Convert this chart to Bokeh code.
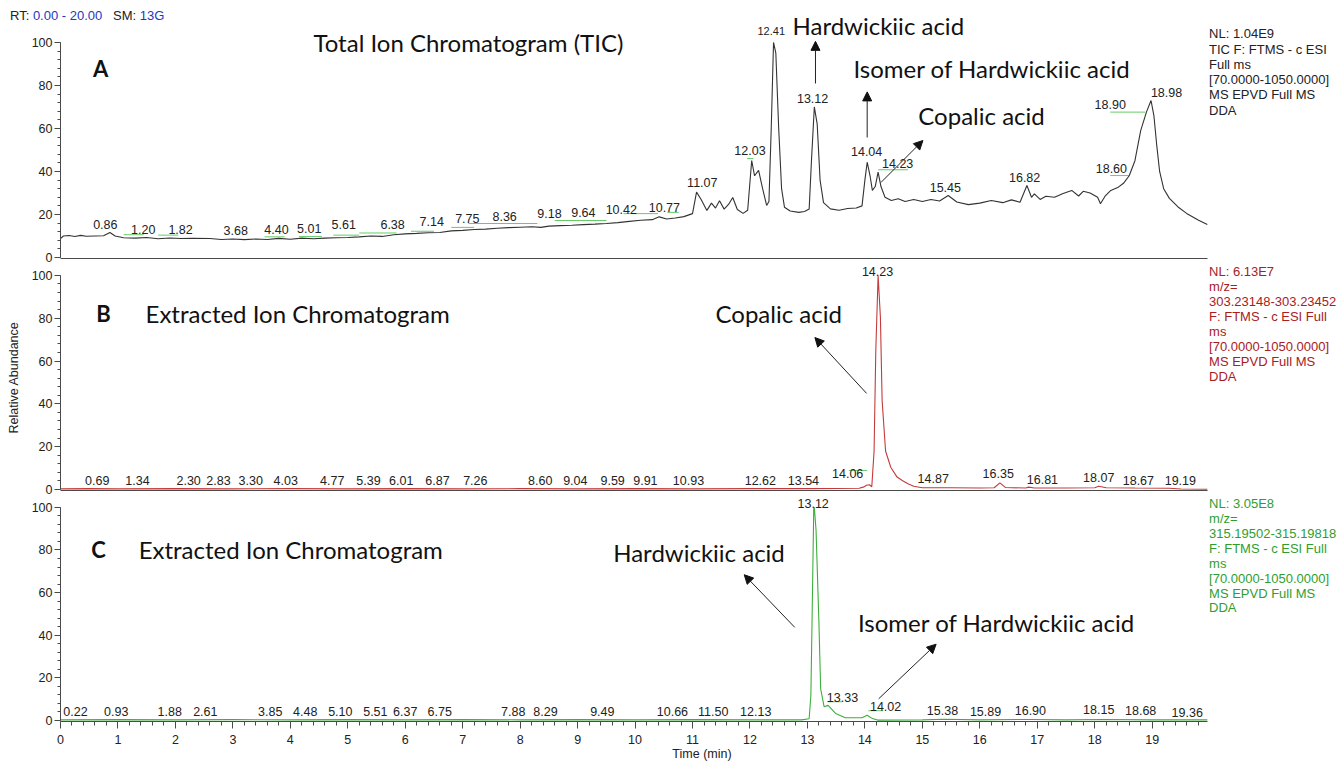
import math
from bokeh.plotting import figure
from bokeh.layouts import column
from bokeh.models import (Label, Arrow, NormalHead, SingleIntervalTicker, FixedTicker,
                          ColumnDataSource, Range1d, Div, GridBox)
from bokeh.core.properties import value
from bokeh.embed import file_html
from bokeh.resources import INLINE

# ---------------- data ----------------
# Panel A: Total Ion Chromatogram (time in min, relative abundance %)
a_t = [0.00, 0.05, 0.15, 0.25, 0.35, 0.45, 0.60, 0.75, 0.86, 0.95, 1.10, 1.30, 1.50, 1.70,
       1.90, 2.10, 2.30, 2.60, 2.80, 3.00, 3.20, 3.40, 3.60, 3.80, 4.00, 4.20, 4.40, 4.60,
       4.80, 5.00, 5.20, 5.40, 5.60, 5.80, 6.00, 6.20, 6.40, 6.60, 6.80, 7.00, 7.20, 7.40,
       7.60, 7.80, 8.00, 8.20, 8.36, 8.50, 8.70, 8.90, 9.10, 9.30, 9.50, 9.70, 9.90, 10.10,
       10.30, 10.42, 10.55, 10.70, 10.85, 11.00, 11.07, 11.15, 11.25, 11.33, 11.40, 11.47,
       11.55, 11.63, 11.70, 11.78, 11.88, 11.96, 12.03, 12.08, 12.15, 12.22, 12.29, 12.33,
       12.37, 12.41, 12.45, 12.50, 12.55, 12.60, 12.70, 12.85, 12.95, 13.03, 13.07, 13.12,
       13.17, 13.22, 13.28, 13.40, 13.55, 13.70, 13.85, 13.95, 14.00, 14.04, 14.09, 14.13,
       14.18, 14.23, 14.28, 14.35, 14.46, 14.58, 14.70, 14.85, 15.00, 15.15, 15.30, 15.45,
       15.60, 15.80, 16.00, 16.20, 16.40, 16.55, 16.70, 16.82, 16.90, 16.95, 17.05, 17.15,
       17.30, 17.45, 17.60, 17.72, 17.80, 17.92, 18.05, 18.10, 18.18, 18.28, 18.40, 18.50,
       18.60, 18.70, 18.80, 18.90, 18.98, 19.03, 19.08, 19.13, 19.20, 19.30, 19.45, 19.60,
       19.80, 19.96]
a_v = [8.8, 10.0, 10.2, 9.8, 10.3, 9.9, 10.0, 10.1, 11.6, 10.0, 9.2, 9.0, 9.3, 8.7,
       9.1, 8.8, 8.9, 8.8, 8.4, 8.6, 8.3, 8.6, 8.4, 8.9, 8.5, 9.0, 8.7, 9.0,
       9.2, 9.3, 9.6, 10.0, 9.8, 10.6, 11.0, 11.2, 11.5, 11.6, 12.4, 12.6, 13.0, 13.2,
       13.6, 13.9, 14.1, 14.3, 14.0, 14.6, 14.8, 15.0, 15.3, 15.5, 15.8, 16.2, 16.8, 17.3,
       17.6, 18.9, 17.9, 18.4, 19.0, 20.4, 30.4, 27.0, 21.9, 25.3, 23.0, 26.4,
       22.5, 24.8, 27.9, 22.3, 20.5, 22.0, 45.1, 38.0, 40.5, 32.0, 24.2, 26.0,
       60.0, 100.0, 95.0, 60.0, 32.0, 23.4, 21.6, 21.0, 21.4, 22.5, 45.0, 70.0,
       62.0, 36.0, 25.5, 22.6, 22.0, 22.8, 23.0, 24.0, 36.0, 44.3, 38.0, 31.2,
       33.0, 39.7, 33.0, 28.0, 26.5, 27.3, 26.0, 27.0, 26.0, 27.0, 26.3, 28.8,
       25.8, 24.6, 25.3, 26.5, 25.5, 26.8, 25.7, 33.5, 28.0, 29.6, 27.0, 28.5,
       28.0, 29.8, 31.2, 28.6, 30.8, 30.0, 28.0, 25.0, 28.5, 31.2, 32.5, 34.5,
       38.0, 45.0, 59.0, 67.6, 73.0, 66.0, 52.0, 40.0, 32.0, 27.5, 23.5, 20.5,
       17.4, 15.3]
# Panel A peak labels (retention times)
a_peaks = [0.86, 1.20, 1.82, 3.68, 4.40, 5.01, 5.61, 6.38, 7.14, 7.75, 8.36, 9.18, 9.64,
           10.42, 10.77, 11.07, 12.03, 12.41, 13.12, 14.04, 14.23, 15.45, 16.82, 18.60,
           18.90, 18.98]
# baseline marker segments (start, end, level)
a_seg = [(1.10, 1.45, 10.6), (1.70, 2.05, 10.4), (3.55, 3.90, 9.6), (4.15, 4.55, 9.8),
         (4.75, 5.20, 10.4), (5.20, 5.85, 11.4), (6.10, 6.50, 12.2), (6.80, 7.20, 14.0),
         (7.10, 8.30, 15.8), (8.60, 9.50, 17.2), (9.80, 10.40, 20.4), (10.56, 10.76, 21.0),
         (11.95, 12.06, 46.0), (14.23, 14.75, 40.8), (18.27, 18.88, 67.6), (18.27, 18.60, 38.1)]

# Panel B: Extracted Ion Chromatogram m/z 303.23148-303.23452 (copalic acid)
b_t = [0.0, 0.5, 1.0, 2.0, 3.0, 4.0, 5.0, 6.0, 7.0, 8.0, 9.0, 10.0, 11.0, 12.0, 13.0,
       13.5, 13.9, 13.97, 14.03, 14.08, 14.12, 14.16, 14.19, 14.23, 14.27, 14.30, 14.36,
       14.45, 14.56, 14.65, 14.75, 14.85, 15.0, 15.5, 16.0, 16.25, 16.35, 16.45, 16.8,
       16.85, 16.95, 17.5, 18.0, 18.07, 18.2, 18.7, 19.3, 19.5, 19.96]
b_v = [0.3, 0.4, 0.3, 0.4, 0.3, 0.4, 0.3, 0.4, 0.3, 0.4, 0.3, 0.4, 0.3, 0.4, 0.4,
       0.5, 0.6, 1.1, 2.0, 2.2, 1.3, 18.0, 65.0, 100.0, 80.5, 41.6, 18.0,
       10.4, 5.8, 4.2, 2.7, 1.5, 0.8, 0.8, 0.7, 0.8, 3.1, 0.9, 0.7,
       1.1, 0.7, 0.7, 0.8, 1.5, 0.8, 0.7, 0.6, 0.2, 0.1]
b_peaks = [0.69, 1.34, 2.30, 2.83, 3.30, 4.03, 4.77, 5.39, 6.01, 6.87, 7.26, 8.60, 9.04,
           9.59, 9.91, 10.93, 12.62, 13.54, 14.06, 14.23, 14.87, 16.35, 16.81, 18.07,
           18.67, 19.19]
b_seg = [(13.72, 14.04, 8.9)]

# Panel C: Extracted Ion Chromatogram m/z 315.19502-315.19818 (hardwickiic acid)
c_t = [0.0, 1.0, 2.0, 3.0, 4.0, 5.0, 6.0, 7.0, 8.0, 9.0, 10.0, 11.0, 12.0, 12.9,
       13.03, 13.06, 13.08, 13.11, 13.12, 13.15, 13.20, 13.23, 13.29, 13.36, 13.49, 13.66,
       13.95, 14.04, 14.13, 14.22, 15.0, 15.38, 16.0, 16.9, 17.5, 18.15, 19.0, 19.96]
c_v = [0.3, 0.4, 0.3, 0.4, 0.3, 0.4, 0.3, 0.4, 0.3, 0.4, 0.3, 0.4, 0.3, 0.3,
       0.8, 12.0, 46.0, 99.5, 100.0, 89.3, 46.0, 14.9, 6.5, 7.1, 3.3, 1.3,
       1.3, 2.5, 0.9, 0.2, 0.3, 0.6, 0.3, 0.5, 0.3, 0.5, 0.3, 0.3]
c_peaks = [0.22, 0.93, 1.88, 2.61, 3.85, 4.48, 5.10, 5.51, 6.37, 6.75, 7.88, 8.29, 9.49,
           10.66, 11.50, 12.13, 13.12, 13.33, 14.02, 15.38, 15.89, 16.90, 18.15, 18.68, 19.36]
c_seg = [(13.35, 13.60, 8.8), (14.06, 14.32, 4.6)]

y_label = "Relative Abundance"
x_label = "Time (min)"
info_a = ["NL: 1.04E9", "TIC F: FTMS - c ESI", "Full ms", "[70.0000-1050.0000]",
          "MS EPVD Full MS", "DDA"]
info_b = ["NL: 6.13E7", "m/z=", "303.23148-303.23452", "F: FTMS - c ESI Full", "ms",
          "[70.0000-1050.0000]", "MS EPVD Full MS", "DDA"]
info_c = ["NL: 3.05E8", "m/z=", "315.19502-315.19818", "F: FTMS - c ESI Full", "ms",
          "[70.0000-1050.0000]", "MS EPVD Full MS", "DDA"]
header_rt = "0.00 - 20.00"
header_sm = "13G"

# ---------------- label placement (data units) ----------------
a_lbl_pos = [(0.78, 15.3), (1.44, 13.0), (2.09, 13.0), (3.05, 12.6), (3.76, 13.0),
             (4.33, 13.5), (4.93, 15.3), (5.78, 15.3), (6.46, 16.7), (7.08, 18.1),
             (7.73, 19.1), (8.51, 20.5), (9.10, 20.9), (9.76, 22.3), (10.51, 23.3),
             (11.17, 34.9), (12.00, 49.8), (12.37, 105.1), (13.09, 74.0), (14.03, 49.3),
             (14.57, 43.7), (15.40, 32.6), (16.78, 37.2), (18.29, 41.4), (18.27, 71.2),
             (19.25, 76.7)]
b_lbl_pos = [(0.64, 4.2), (1.34, 4.2), (2.23, 4.2), (2.75, 4.2), (3.31, 4.2), (3.92, 4.2),
             (4.73, 4.2), (5.36, 4.2), (5.93, 4.2), (6.56, 4.2), (7.22, 4.2), (8.35, 4.2),
             (8.96, 4.2), (9.61, 4.2), (10.18, 4.2), (10.93, 4.2), (12.18, 4.2), (12.93, 4.2),
             (13.70, 7.5), (14.22, 101.8), (15.19, 5.1), (16.32, 7.5), (17.09, 4.7),
             (18.07, 5.6), (18.76, 4.2), (19.49, 4.2)]
c_lbl_pos = [(0.26, 4.2), (0.97, 4.2), (1.90, 4.2), (2.52, 4.2), (3.65, 4.2), (4.26, 4.2),
             (4.87, 4.2), (5.48, 4.2), (6.00, 4.2), (6.60, 4.2), (7.88, 4.2), (8.44, 4.2),
             (9.43, 4.2), (10.65, 4.2), (11.36, 4.2), (12.10, 4.2), (13.10, 101.8),
             (13.61, 10.7), (14.36, 6.5), (15.35, 4.7), (16.10, 4.2), (16.88, 4.7),
             (18.07, 5.0), (18.80, 4.7), (19.61, 3.7)]

# ---------------- styling ----------------
W = 1343
LEFT = 60
XMAX = 19.96        # end of the time axis
XVIEW = 22.33       # visible range incl. the instrument-info column at right
AX_COLOR = "#4a4a4a"
NUM_FONT = "Liberation Sans"
ANN_FONT = "Lato"
COL_A, COL_B, COL_C = "#333333", "#c43a3a", "#3cae3c"
TXT_B, TXT_C = "#a8201e", "#2f9e2f"
SEG_COL = "#66cc66"
LBL_SIZE = "12.5px"


def style_axis(ax, tick_out, minor_out):
    ax.axis_line_color = AX_COLOR
    ax.major_tick_line_color = AX_COLOR
    ax.minor_tick_line_color = AX_COLOR
    ax.major_tick_out = tick_out
    ax.major_tick_in = 0
    ax.minor_tick_out = minor_out
    ax.minor_tick_in = 0
    ax.major_label_text_font = NUM_FONT
    ax.major_label_text_font_size = "12.5px"
    ax.major_label_text_color = "#222222"


def make_fig(height, y0, y1, bottom_border, with_ticks):
    p = figure(width=W, height=height, x_range=Range1d(0, XVIEW), y_range=Range1d(y0, y1),
               output_backend="svg", toolbar_location=None, title=None,
               min_border_left=LEFT, min_border_right=0, min_border_top=0,
               min_border_bottom=bottom_border)
    p.outline_line_color = None
    p.xgrid.visible = False
    p.ygrid.visible = False
    p.border_fill_alpha = 0
    p.background_fill_alpha = 0
    ya = p.yaxis[0]
    ya.ticker = SingleIntervalTicker(interval=20, num_minor_ticks=5)
    ya.bounds = (0, 100)
    style_axis(ya, 6, 3)
    ya.major_label_standoff = 2
    xa = p.xaxis[0]
    xa.bounds = (0, XMAX)
    if with_ticks:
        xa.ticker = SingleIntervalTicker(interval=1, num_minor_ticks=5)
        style_axis(xa, 7, 4)
        xa.major_label_standoff = 6
        xa.axis_label = x_label
        xa.axis_label_text_font = NUM_FONT
        xa.axis_label_text_font_size = "12.5px"
        xa.axis_label_text_font_style = "normal"
        xa.axis_label_text_color = "#222222"
        xa.axis_label_standoff = 0
    else:
        xa.ticker = FixedTicker(ticks=[])
        style_axis(xa, 0, 0)
        xa.major_label_standoff = 0
        xa.major_label_text_font_size = "0px"
    return p


def add_trace(p, t, v, color):
    p.line(x=t, y=v, line_color=color, line_width=1.1)


def add_segments(p, segs):
    p.segment(x0=[s[0] for s in segs], x1=[s[1] for s in segs],
              y0=[s[2] for s in segs], y1=[s[2] for s in segs],
              line_color=SEG_COL, line_width=1)


def add_peak_labels(p, peaks, pos, sizes=None):
    src = ColumnDataSource(dict(x=[q[0] for q in pos], y=[q[1] for q in pos],
                                txt=["%.2f" % k for k in peaks],
                                size=sizes if sizes else [LBL_SIZE] * len(peaks)))
    p.text(x="x", y="y", text="txt", source=src, text_font=value(NUM_FONT),
           text_font_size="size", text_color="#222222", text_align="center",
           text_baseline="middle")


def big_text(p, x, y, txt, align="left", bold=False, size="24px"):
    p.add_layout(Label(x=x, y=y, text=txt, text_font=ANN_FONT, text_font_size=size,
                       text_font_style="bold" if bold else "normal", text_color="#111111",
                       text_align=align, text_baseline="middle"))


def arrow(p, x0, y0, x1, y1):
    p.add_layout(Arrow(end=NormalHead(size=9, fill_color="#111111", line_color="#111111"),
                       x_start=x0, y_start=y0, x_end=x1, y_end=y1,
                       line_color="#222222", line_width=1))


def info_block(p, lines, y_top, step, color):
    src = ColumnDataSource(dict(x=[XMAX + 0.03] * len(lines),
                                y=[y_top - i * step for i in range(len(lines))],
                                txt=lines))
    p.text(x="x", y="y", text="txt", source=src, text_font=value(NUM_FONT),
           text_font_size="13px", text_color=color, text_align="left",
           text_baseline="middle")


# ---------------- panel A ----------------
pA = make_fig(264, -0.465, 119.5, 6, False)
add_segments(pA, a_seg)
add_trace(pA, a_t, a_v, COL_A)
sizes_a = ["11px" if k == 12.41 else LBL_SIZE for k in a_peaks]
add_peak_labels(pA, a_peaks, a_lbl_pos, sizes_a)
big_text(pA, 0.70, 87.9, "A", align="center", bold=True, size="22px")
big_text(pA, 7.10, 100.0, "Total Ion Chromatogram (TIC)", align="center")
big_text(pA, 12.74, 107.9, "Hardwickiic acid")
big_text(pA, 13.80, 87.9, "Isomer of Hardwickiic acid")
big_text(pA, 14.93, 66.0, "Copalic acid")
arrow(pA, 13.14, 80.9, 13.14, 100.5)
arrow(pA, 14.04, 55.8, 14.04, 77.0)
arrow(pA, 14.28, 34.9, 15.01, 54.4)
info_block(pA, info_a, 104.0, 7.1, "#222222")

# ---------------- panel B ----------------
pB = make_fig(232, -0.467, 105.1, 6, False)
add_segments(pB, b_seg)
add_trace(pB, b_t, b_v, COL_B)
add_peak_labels(pB, b_peaks, b_lbl_pos)
big_text(pB, 0.75, 82.2, "B", align="center", bold=True, size="22px")
big_text(pB, 1.48, 82.2, "Extracted Ion Chromatogram")
big_text(pB, 11.40, 82.2, "Copalic acid")
arrow(pB, 14.03, 44.9, 13.13, 71.0)
info_block(pB, info_b, 101.8, 7.0, TXT_B)
yb = pB.yaxis[0]
yb.axis_label = y_label
yb.axis_label_text_font = NUM_FONT
yb.axis_label_text_font_size = "12.5px"
yb.axis_label_text_font_style = "normal"
yb.axis_label_text_color = "#222222"
yb.axis_label_standoff = 8

# ---------------- panel C ----------------
pC = make_fig(267, -0.465, 105.1, 40, True)
add_segments(pC, c_seg)
add_trace(pC, c_t, c_v, COL_C)
add_peak_labels(pC, c_peaks, c_lbl_pos)
big_text(pC, 0.66, 80.0, "C", align="center", bold=True, size="22px")
big_text(pC, 1.36, 80.0, "Extracted Ion Chromatogram")
big_text(pC, 9.62, 78.6, "Hardwickiic acid")
big_text(pC, 13.88, 46.0, "Isomer of Hardwickiic acid")
arrow(pC, 12.78, 43.7, 11.90, 68.4)
arrow(pC, 14.24, 10.2, 15.24, 35.8)
info_block(pC, info_c, 101.8, 7.0, TXT_C)

# ---------------- header (run info) ----------------
hdr = Div(text=('RT: <span style="color:#2238c0">%s</span>&nbsp;&nbsp; SM: '
                '<span style="color:#2238c0">%s</span>') % (header_rt, header_sm),
          width=220, height=16, margin=(8, 0, 0, 10),
          styles={"font-family": "Liberation Sans", "font-size": "13px",
                  "color": "#222222", "line-height": "16px", "white-space": "nowrap"})

charts = column(pA, pB, pC, spacing=0)
page = GridBox(children=[(charts, 0, 0), (hdr, 0, 0)])
open("out.html", "w").write(file_html(page, INLINE))
